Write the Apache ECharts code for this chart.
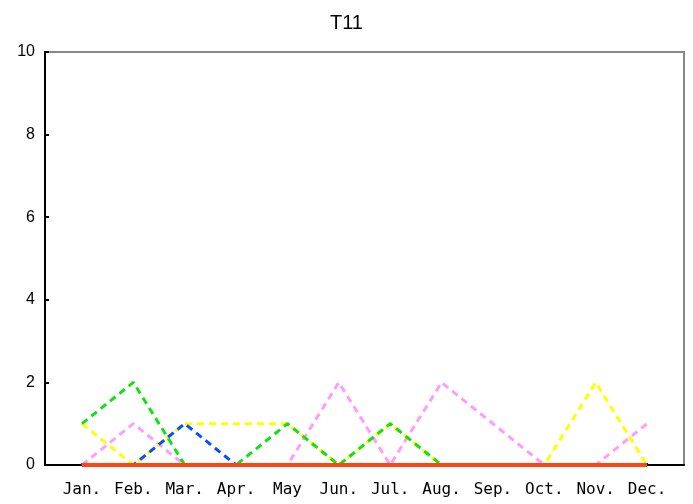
<!DOCTYPE html>
<html><head><meta charset="utf-8">
<script src="https://cdn.jsdelivr.net/npm/echarts@6/dist/echarts.min.js"></script>
<style>html,body{margin:0;padding:0;background:#fff}#c{width:693px;height:504px}</style>
</head><body><div id="c"></div>
<script>
const months = ['Jan.','Feb.','Mar.','Apr.','May','Jun.','Jul.','Aug.','Sep.','Oct.','Nov.','Dec.'];
const yTicks = [0,2,4,6,8,10];
const pinkVals   = [0,1,0,0,0,2,0,2,1,0,0,1];
const yellowVals = [1,0,1,1,1,0,1,0,0,0,2,0];
const blueVals   = [0,0,1,0,0,0,0,0,0,0,0,0];
const greenVals  = [1,2,0,0,1,0,1,0,0,0,0,0];
const redVals    = [0,0,0,0,0,0,0,0,0,0,0,0];

const idx = months.map((m,i)=>i);
const pts = v => v.map((y,i)=>[i,y]);
function dashed(name, vals, color){
  return {name, type:'line', data:pts(vals), symbol:'none', animation:false,
    lineStyle:{color, width:3, type:[7,5]}};
}
const chart = echarts.init(document.getElementById('c'), null, {renderer:'canvas'});
chart.setOption({
  backgroundColor:'#fff',
  animation:false,
  title:{text:'T11', left:'center', top:8, textStyle:{fontFamily:'Liberation Sans, Arial', fontSize:20, fontWeight:'normal', color:'#000'}},
  grid:{left:45, right:9, top:52, bottom:39, show:true, borderColor:'#888', borderWidth:2, backgroundColor:'#fff'},
  xAxis:{type:'value', min:-0.72, max:11.72,
    axisLine:{show:true, onZero:false, lineStyle:{color:'#000', width:2}},
    axisTick:{show:true, inside:true, length:2, lineStyle:{color:'#000', width:2}, customValues:idx},
    axisLabel:{customValues:idx, formatter:v=>months[Math.round(v)], color:'#000', fontFamily:'DejaVu Sans Mono', fontSize:16, margin:17},
    splitLine:{show:false}},
  yAxis:{type:'value', min:0, max:10, interval:2,
    axisLine:{show:true, onZero:false, lineStyle:{color:'#000', width:2}},
    axisTick:{show:true, inside:true, length:4, lineStyle:{color:'#000', width:2}},
    axisLabel:{color:'#000', fontFamily:'Liberation Sans, Arial', fontSize:16, margin:10,
      formatter:v=>yTicks.includes(v)?String(v):''},
    splitLine:{show:false}},
  series:[
    dashed('pink', pinkVals, '#ff9cff'),
    dashed('yellow', yellowVals, '#ffff00'),
    dashed('blue', blueVals, '#0a4cff'),
    dashed('green', greenVals, '#11e011'),
    {name:'red', type:'line', data:pts(redVals), symbol:'none', lineStyle:{color:'#ff4512', width:4}}
  ]
});
</script></body></html>
